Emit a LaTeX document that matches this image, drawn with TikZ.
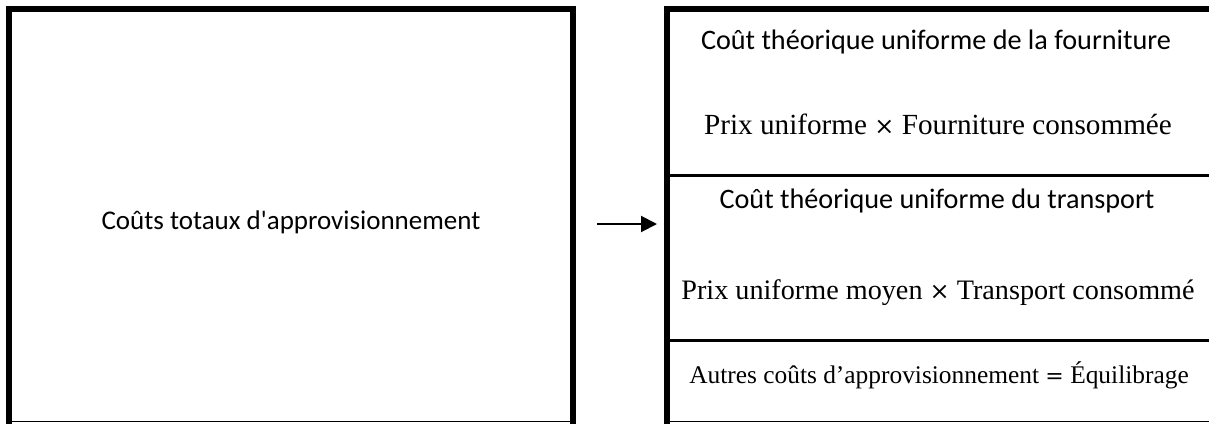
\documentclass[tikz,border=0pt]{standalone}
\usepackage{fontspec}
\setmainfont{Carlito}
\newfontfamily\serifcell{Liberation Serif}
\newfontfamily\opsymbol{DejaVu Serif}
\newcommand{\optimes}{{\opsymbol\fontsize{24}{30}\selectfont ×}}
\newcommand{\opequals}{{\opsymbol\fontsize{22}{30}\selectfont =}}
\usetikzlibrary{arrows.meta,positioning}

\begin{document}
\begin{tikzpicture}[x=1pt, y=-1pt,
    thickrule/.style={line width=6pt, line cap=rect},
    midrule/.style={line width=3pt},
    baserule/.style={line width=1.5pt},
    cell/.style={anchor=base, inner sep=0pt, font=\fontsize{28.2}{32}\selectfont},
    formula/.style={anchor=base, inner sep=0pt, font=\serifcell\fontsize{29.2}{34}\selectfont},
    arr/.style={-{Triangle[length=16pt, width=16pt]}, line width=2pt},
]
\useasboundingbox (0,0) rectangle (1209,423);

% --- Total cost (left block) ---
\draw[thickrule] (9,421) -- (9,9) -- (573,9) -- (573,421);
\draw[baserule] (12,421.5) -- (570,421.5);
\node[cell, font=\fontsize{27}{32}\selectfont] (total) at (291,229)
  {Coûts totaux d\textquotesingle approvisionnement};

% --- Breakdown (right block) ---
\draw[thickrule] (667,421) -- (667,9) -- (1215,9);
\draw[midrule] (670,175) -- (1209,175);
\draw[midrule] (670,340) -- (1209,340);
\draw[baserule] (670,421.5) -- (1209,421.5);

\node[cell] (supply) at (936,49) {Coût théorique uniforme de la fourniture};
\node[formula] (supplyf) at (938,134) {Prix uniforme \optimes{} Fourniture consommée};
\node[cell] (transp) at (937,208) {Coût théorique uniforme du transport};
\node[formula, font=\serifcell\fontsize{28.2}{34}\selectfont] (transpf) at (938,299)
  {Prix uniforme moyen \optimes{} Transport consommé};
\node[formula, font=\serifcell\fontsize{25.4}{30}\selectfont] (rest) at (939,383)
  {Autres coûts d’approvisionnement \opequals{} Équilibrage};

% --- Link between the blocks ---
\coordinate (from) at (597,224);
\coordinate (to) at (657,224);
\draw[arr] (from) -- (to);

\end{tikzpicture}
\end{document}
